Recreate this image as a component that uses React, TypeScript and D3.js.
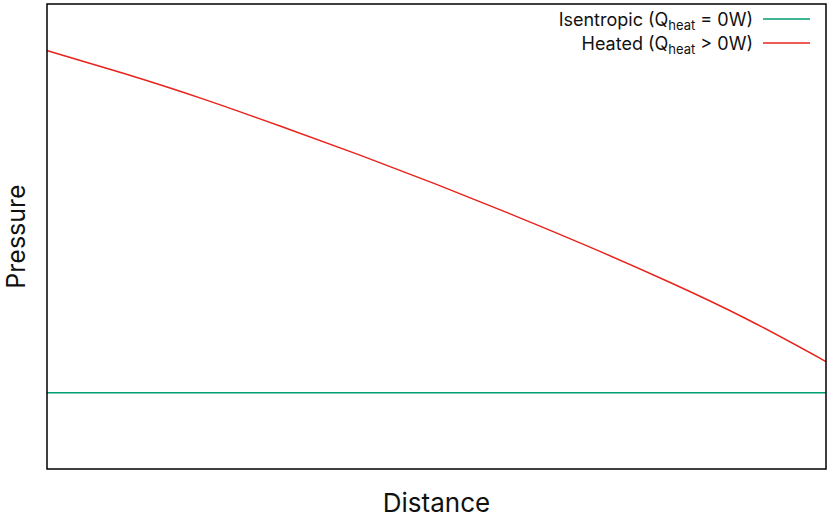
import React from "react";
import * as d3 from "d3";

// distance (normalized) and pressure (arbitrary units)
const distance = [0, 0.1, 0.2, 0.3, 0.4, 0.5, 0.6, 0.7, 0.8, 0.9, 1.0];
const heatedPressure = [90.0, 85.0, 79.6, 73.7, 67.6, 61.2, 54.5, 47.5, 40.1, 32.1, 23.1];
const isentropicDistance = [0, 1.0];
const isentropicPressure = [16.4, 16.4];

const legendRows = [
  { pre: "Isentropic (Q", sub: "heat", post: " = 0W)", color: "#009e73" },
  { pre: "Heated (Q", sub: "heat", post: " > 0W)", color: "#e8231c" },
];

const W = 830;
const H = 517;
const margin = { top: 4, right: 4, bottom: 48, left: 47 };

const App = () => {
  const x = d3.scaleLinear().domain([0, 1]).range([margin.left, W - margin.right]);
  const y = d3.scaleLinear().domain([0, 100]).range([H - margin.bottom, margin.top]);

  const line = d3
    .line<[number, number]>()
    .x(d => x(d[0]))
    .y(d => y(d[1]))
    .curve(d3.curveNatural);

  const heated = line(distance.map((d, i) => [d, heatedPressure[i]] as [number, number]));
  const isen = line(isentropicDistance.map((d, i) => [d, isentropicPressure[i]] as [number, number]));

  const font = "Inter, 'Noto Sans', sans-serif";

  return (
    <svg width={W} height={H} style={{ position: "absolute", left: 0, top: 0 }} fontFamily={font}>
      <rect width={W} height={H} fill="white" />
      <path d={isen || ""} fill="none" stroke={legendRows[0].color} strokeWidth={1.5} />
      <path d={heated || ""} fill="none" stroke={legendRows[1].color} strokeWidth={1.5} />
      <rect
        x={margin.left}
        y={margin.top}
        width={W - margin.left - margin.right}
        height={H - margin.top - margin.bottom}
        fill="none"
        stroke="black"
        strokeWidth={1.5}
      />
      {legendRows.map((r, i) => (
        <g key={i} transform={`translate(0,${26 + i * 24})`}>
          <text x={753} y={0} textAnchor="end" fontSize={18} fill="#111">
            {r.pre}
            <tspan fontSize={13} dy={4}>{r.sub}</tspan>
            <tspan dy={-4}>{r.post}</tspan>
          </text>
          <line x1={763} x2={810} y1={-7} y2={-7} stroke={r.color} strokeWidth={1.5} />
        </g>
      ))}
      <text x={(margin.left + W - margin.right) / 2} y={512} textAnchor="middle" fontSize={26} fill="#111">
        Distance
      </text>
      <text
        transform={`translate(25,${(margin.top + H - margin.bottom) / 2}) rotate(-90)`}
        textAnchor="middle"
        fontSize={25}
        fill="#111"
      >
        Pressure
      </text>
    </svg>
  );
};

export default App;
